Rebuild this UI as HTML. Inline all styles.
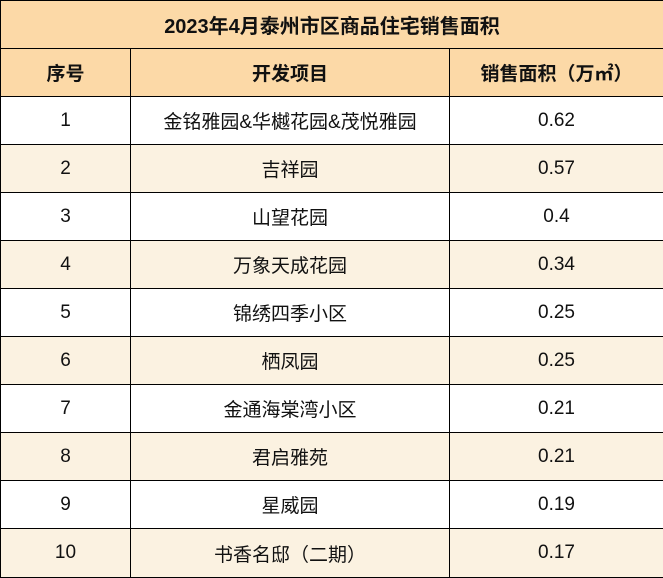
<!DOCTYPE html>
<html><head><meta charset="utf-8"><style>
body{margin:0;width:663px;height:577px;overflow:hidden;background:#fff;font-family:"Liberation Sans","Noto Sans CJK SC",sans-serif;}
table{border-collapse:collapse;width:663px;table-layout:fixed;position:absolute;left:0;top:0;}
td,th{border:1px solid #000;text-align:center;padding:0;font-size:19px;color:#111;height:47px;box-sizing:border-box;}
th{background:#FCD9A7;font-weight:bold;}
tr.alt td{background:#FBF2E1;}
.title th{font-size:20px;}
</style></head><body>
<table>
<colgroup><col style="width:130px"><col style="width:319px"><col style="width:214px"></colgroup>
<tr class="title" style="height:48px"><th colspan="3">2023年4月泰州市区商品住宅销售面积</th></tr>
<tr style="height:48px"><th>序号</th><th>开发项目</th><th>销售面积（万㎡）</th></tr>
<tr style="height:48px"><td>1</td><td>金铭雅园&amp;华樾花园&amp;茂悦雅园</td><td>0.62</td></tr>
<tr class="alt" style="height:48px"><td>2</td><td>吉祥园</td><td>0.57</td></tr>
<tr style="height:48px"><td>3</td><td>山望花园</td><td>0.4</td></tr>
<tr class="alt" style="height:48px"><td>4</td><td>万象天成花园</td><td>0.34</td></tr>
<tr style="height:48px"><td>5</td><td>锦绣四季小区</td><td>0.25</td></tr>
<tr class="alt" style="height:48px"><td>6</td><td>栖凤园</td><td>0.25</td></tr>
<tr style="height:48px"><td>7</td><td>金通海棠湾小区</td><td>0.21</td></tr>
<tr class="alt" style="height:48px"><td>8</td><td>君启雅苑</td><td>0.21</td></tr>
<tr style="height:48px"><td>9</td><td>星威园</td><td>0.19</td></tr>
<tr class="alt" style="height:49px"><td>10</td><td>书香名邸（二期）</td><td>0.17</td></tr>
</table>
</body></html>
